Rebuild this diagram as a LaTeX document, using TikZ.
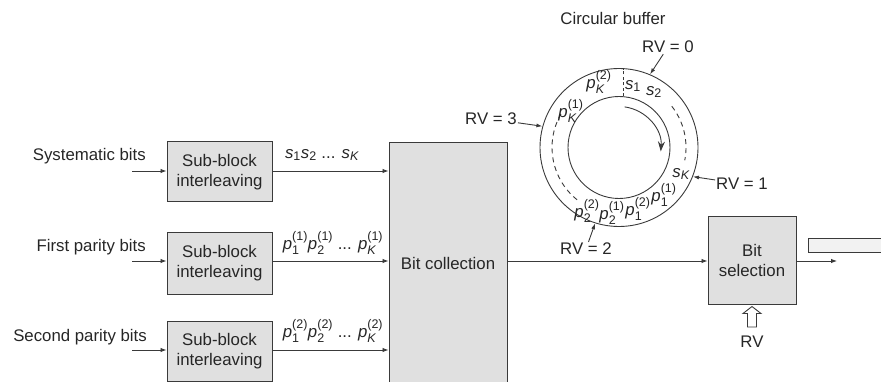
\documentclass[tikz,border=0pt]{standalone}
\usepackage{fontspec}
\setmainfont{Liberation Sans}
\usepackage{amsmath}
\usetikzlibrary{arrows.meta}
\DeclareMathSizes{16.8}{16.8}{12.5}{10}
\definecolor{boxfill}{HTML}{E0E0E0}
\definecolor{linecol}{HTML}{3A3A3A}
\definecolor{buffill}{HTML}{F2F2F2}
\newcommand\pv[2]{$\textit{p}^{\text{(#2)}}_{\text{#1}}$}
\newcommand\sv[1]{$\textit{s}_{\text{#1}}$}
\tikzset{
  blockbox/.style={draw=linecol, line width=1pt, fill=boxfill, align=center, inner sep=0pt},
  conn/.style={draw=linecol, line width=0.9pt, -{Latex[length=6pt,width=4.5pt]}},
  rvarrow/.style={draw=linecol, line width=0.9pt, -{Latex[length=6pt,width=4pt]}},
  lbl/.style={inner sep=1pt},
  rlbl/.style={inner sep=0pt},
  ring/.style={draw=linecol, line width=0.9pt},
}
\begin{document}
\begin{tikzpicture}[x=1pt,y=-1pt,font=\fontsize{16.8}{20}\selectfont, text=black!85]
\useasboundingbox (0,0) rectangle (881,382);

% sub-block interleavers
\node[blockbox, minimum width=105pt, minimum height=60pt] (sb1) at (219.5,172) {Sub-block\\interleaving};
\node[blockbox, minimum width=105pt, minimum height=61pt] (sb2) at (219.5,263.5) {Sub-block\\interleaving};
\node[blockbox, minimum width=105pt, minimum height=60pt] (sb3) at (219.5,351) {Sub-block\\interleaving};

% bit collection
\node[blockbox, minimum width=118pt, minimum height=240pt] (bc) at (448,263) {Bit collection};

% bit selection
\node[blockbox, minimum width=88pt, minimum height=87pt] (bs) at (752,260.5) {Bit\\selection};

% input labels
\node[lbl, anchor=east] (l1) at (147,156) {Systematic bits};
\node[lbl, anchor=east] (l2) at (147,247) {First parity bits};
\node[lbl, anchor=east] (l3) at (148,337) {Second parity bits};

\coordinate (i1) at (132,171);
\coordinate (i2) at (132,261);
\coordinate (i3) at (132,350);
\draw[conn] (i1) -- (sb1.west |- i1);
\draw[conn] (i2) -- (sb2.west |- i2);
\draw[conn] (i3) -- (sb3.west |- i3);

\draw[conn] (sb1.east |- i1) -- (bc.west |- i1);
\draw[conn] (sb2.east |- i2) -- (bc.west |- i2);
\draw[conn] (sb3.east |- i3) -- (bc.west |- i3);

\node[lbl] (o1) at (322,155) {\sv{1}\sv{2} ... \sv{\itshape K}};
\node[lbl] (o2) at (333,243) {\pv{1}{1}\pv{2}{1} ... \pv{\itshape K}{1}};
\node[lbl] (o3) at (333,331) {\pv{1}{2}\pv{2}{2} ... \pv{\itshape K}{2}};

% bit collection -> bit selection
\draw[conn] (bc.east |- i2) -- (bs.west |- i2);

% output
\coordinate (out) at (837,261);
\draw[conn] (bs.east |- out) -- (out);
\draw[draw=linecol, line width=0.9pt, fill=buffill] (808,238) rectangle (890,252);

% hollow RV arrow
\draw[draw=linecol, line width=0.9pt, fill=white, line join=miter]
  (747.5,327) -- (747.5,313.5) -- (743,313.5) -- (752,306.5) -- (761,313.5) -- (756.5,313.5) -- (756.5,327) -- cycle;
\node[lbl] (rvin) at (752,342) {RV};

% circular buffer
\node[lbl] (cbt) at (613,18) {Circular buffer};
\begin{scope}[shift={(619,147.5)}, y=1pt]
  \draw[ring] (0,0) circle[radius=79];
  \draw[ring] (0,0) circle[radius=51];
  \draw[ring, dashed, dash pattern=on 5pt off 4pt] (38:67) arc[start angle=38, end angle=-11, radius=67];
  \draw[ring, dashed, dash pattern=on 5pt off 4pt] (150:67) arc[start angle=150, end angle=232, radius=67];
  \draw[ring, dashed, dash pattern=on 3pt off 2.5pt] (4,51) -- (4,78.9);
  \draw[draw=linecol, line width=0.9pt, -{Stealth[length=10pt,width=7pt]}] (82:41) arc[start angle=82, end angle=-4, radius=42];
  \coordinate (c0) at (67:79.5);
  \coordinate (c3) at (164.5:79.5);
  \coordinate (c1) at (-21.5:79.5);
  \coordinate (c2) at (252.5:79.5);
\end{scope}

% ring labels
\node[rlbl] (rk2) at (599,82) {\pv{\itshape K}{2}};
\node[rlbl] (rs1) at (633,86) {\sv{1}};
\node[rlbl] (rs2) at (654,92) {\sv{2}};
\node[rlbl] (rk1) at (571,111) {\pv{\itshape K}{1}};
\node[rlbl] (rsk) at (681,174) {\sv{\itshape K}};
\node[rlbl] (r11) at (664,195) {\pv{1}{1}};
\node[rlbl] (r12) at (638,209) {\pv{1}{2}};
\node[rlbl] (r21) at (612,213) {\pv{2}{1}};
\node[rlbl] (r22) at (587,211) {\pv{2}{2}};

% RV labels
\node[lbl] (rv0) at (668,47) {RV = 0};
\node[lbl] (rv3) at (491,119) {RV = 3};
\node[lbl] (rv1) at (742,184) {RV = 1};
\node[lbl] (rv2) at (586,249) {RV = 2};
\draw[rvarrow] (rv0) -- (c0);
\draw[rvarrow] (rv3) -- (c3);
\draw[rvarrow] (rv1) -- (c1);
\draw[rvarrow] (rv2) -- (c2);
\end{tikzpicture}
\end{document}
